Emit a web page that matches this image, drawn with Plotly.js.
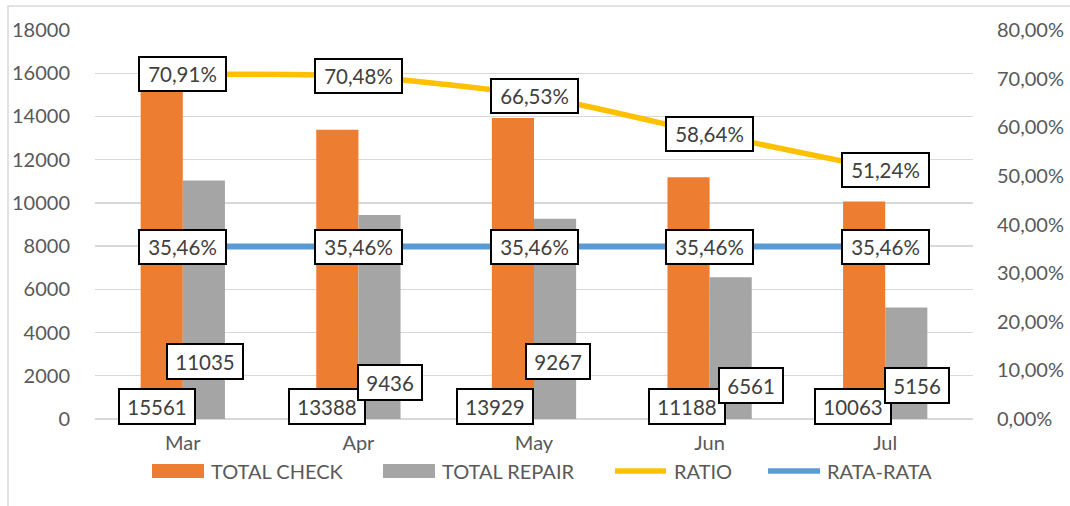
<!DOCTYPE html>
<html>
<head>
<meta charset="utf-8">
<script src="https://cdn.plot.ly/plotly-3.0.1.min.js"></script>
<style>html,body{margin:0;padding:0;background:#fff;}#chart{width:1070px;height:506px;}</style>
</head>
<body>
<div id="chart"></div>
<script>
// ---- data ----
const months = ["Mar", "Apr", "May", "Jun", "Jul"];
const totalCheck = [15561, 13388, 13929, 11188, 10063];
const totalRepair = [11035, 9436, 9267, 6561, 5156];
const ratio = [0.7091, 0.7048, 0.6653, 0.5864, 0.5124];
const rataRata = [0.3546, 0.3546, 0.3546, 0.3546, 0.3546];
const leftTicks = [0, 2000, 4000, 6000, 8000, 10000, 12000, 14000, 16000, 18000];
const rightTicks = [0, 0.1, 0.2, 0.3, 0.4, 0.5, 0.6, 0.7, 0.8];

// ---- label placement (pixel shifts for manually placed data labels) ----
const checkLabelShift = [[-5, 13], [-10, 13], [-18, 13], [-2, 13], [-11, 13]];
const repairLabelShift = [[1, 58], [11, 37], [3, 58], [20, 34], [11, 34]];

const FONT = "Lato, 'Open Sans', sans-serif";
const TXT = "#595959";
const LBL = "#404040";

// plot area in pixels
const L = 95, R = 973, T = 30, B = 419;
const px = v => (v - L) / (R - L);
const py = v => (B - v) / (B - T);

const pct = v => (v * 100).toFixed(2).replace('.', ',') + '%';

const traces = [
  {type: 'bar', name: 'TOTAL CHECK', x: months, y: totalCheck, marker: {color: '#ED7D31'}, yaxis: 'y', hoverinfo: 'y'},
  {type: 'bar', name: 'TOTAL REPAIR', x: months, y: totalRepair, marker: {color: '#A5A5A5'}, yaxis: 'y', hoverinfo: 'y'},
  {type: 'scatter', mode: 'lines', name: 'RATIO', x: months, y: ratio, yaxis: 'y2',
   line: {color: '#FFC000', width: 5.5, shape: 'spline', smoothing: 0.6}},
  {type: 'scatter', mode: 'lines', name: 'RATA-RATA', x: months, y: rataRata, yaxis: 'y2',
   line: {color: '#5B9BD5', width: 6}}
];

const annotations = [];
const boxStyle = {showarrow: false, bgcolor: '#FFFFFF', bordercolor: '#000000', borderwidth: 2, borderpad: 1,
  font: {family: FONT, size: 20.5, color: LBL}, align: 'center', valign: 'middle'};

months.forEach((m, i) => {
  annotations.push(Object.assign({}, boxStyle, {x: m, xref: 'x', y: ratio[i], yref: 'y2', text: pct(ratio[i]), width: 83, height: 30}));
  annotations.push(Object.assign({}, boxStyle, {x: m, xref: 'x', y: rataRata[i], yref: 'y2', text: pct(rataRata[i]), width: 83, height: 30}));
  const tc = String(totalCheck[i]), tr = String(totalRepair[i]);
  annotations.push(Object.assign({}, boxStyle, {x: m, xref: 'x', y: 0, yref: 'y', text: tc,
    width: tc.length * 11.8 + 13, height: 31, xshift: -21 + checkLabelShift[i][0], yshift: checkLabelShift[i][1]}));
  annotations.push(Object.assign({}, boxStyle, {x: m, xref: 'x', y: 0, yref: 'y', text: tr,
    width: tr.length * 11.8 + 13, height: 31, xshift: 21 + repairLabelShift[i][0], yshift: repairLabelShift[i][1]}));
});

// ---- manual legend ----
const legendY = 471;
const legendItems = [
  {name: 'TOTAL CHECK', kind: 'rect', color: '#ED7D31', x0: 152, x1: 204, tx: 209},
  {name: 'TOTAL REPAIR', kind: 'rect', color: '#A5A5A5', x0: 383, x1: 435, tx: 440},
  {name: 'RATIO', kind: 'line', color: '#FFC000', x0: 615, x1: 666, tx: 672},
  {name: 'RATA-RATA', kind: 'line', color: '#5B9BD5', x0: 768, x1: 820, tx: 825}
];
const shapes = [
  // outer chart border (left/top visible)
  {type: 'rect', xref: 'paper', yref: 'paper', x0: px(8), x1: px(1090), y0: py(6), y1: py(530),
   line: {color: '#D9D9D9', width: 1.5}, layer: 'below'}
];
legendItems.forEach(it => {
  if (it.kind === 'rect') {
    shapes.push({type: 'rect', xref: 'paper', yref: 'paper', x0: px(it.x0), x1: px(it.x1),
      y0: py(legendY + 7), y1: py(legendY - 7), fillcolor: it.color, line: {width: 0}});
  } else {
    shapes.push({type: 'line', xref: 'paper', yref: 'paper', x0: px(it.x0), x1: px(it.x1),
      y0: py(legendY), y1: py(legendY), line: {color: it.color, width: 5.5}});
  }
  annotations.push({xref: 'paper', yref: 'paper', x: px(it.tx), y: py(legendY), xanchor: 'left', yanchor: 'middle',
    text: it.name, showarrow: false, font: {family: FONT, size: 20, color: TXT}});
});

const layout = {
  width: 1070, height: 506,
  margin: {l: L, r: 1070 - R, t: T, b: 506 - B, pad: 0},
  paper_bgcolor: '#FFFFFF', plot_bgcolor: '#FFFFFF',
  font: {family: FONT, size: 20, color: TXT},
  separators: ',.',
  showlegend: false,
  barmode: 'group', bargap: 0.52, bargroupgap: 0,
  xaxis: {type: 'category', showgrid: false, zeroline: false, showline: false,
    ticks: 'outside', ticklen: 6, tickcolor: 'rgba(0,0,0,0)', tickfont: {family: FONT, size: 20, color: TXT}},
  yaxis: {range: [0, 18000], tickvals: leftTicks, tickformat: 'd', showgrid: true, gridcolor: '#D9D9D9', gridwidth: 1.3,
    zeroline: true, zerolinecolor: '#D9D9D9', zerolinewidth: 1.3, showline: false,
    ticks: 'outside', ticklen: 20, tickcolor: 'rgba(0,0,0,0)', tickfont: {family: FONT, size: 20, color: TXT}},
  yaxis2: {range: [0, 0.8], tickvals: rightTicks, tickformat: '.2%', overlaying: 'y', side: 'right',
    showgrid: false, zeroline: false, showline: false,
    ticks: 'outside', ticklen: 19, tickcolor: 'rgba(0,0,0,0)', tickfont: {family: FONT, size: 20, color: TXT}},
  shapes: shapes,
  annotations: annotations
};

Plotly.newPlot('chart', traces, layout, {displayModeBar: false, staticPlot: true});
</script>
</body>
</html>
